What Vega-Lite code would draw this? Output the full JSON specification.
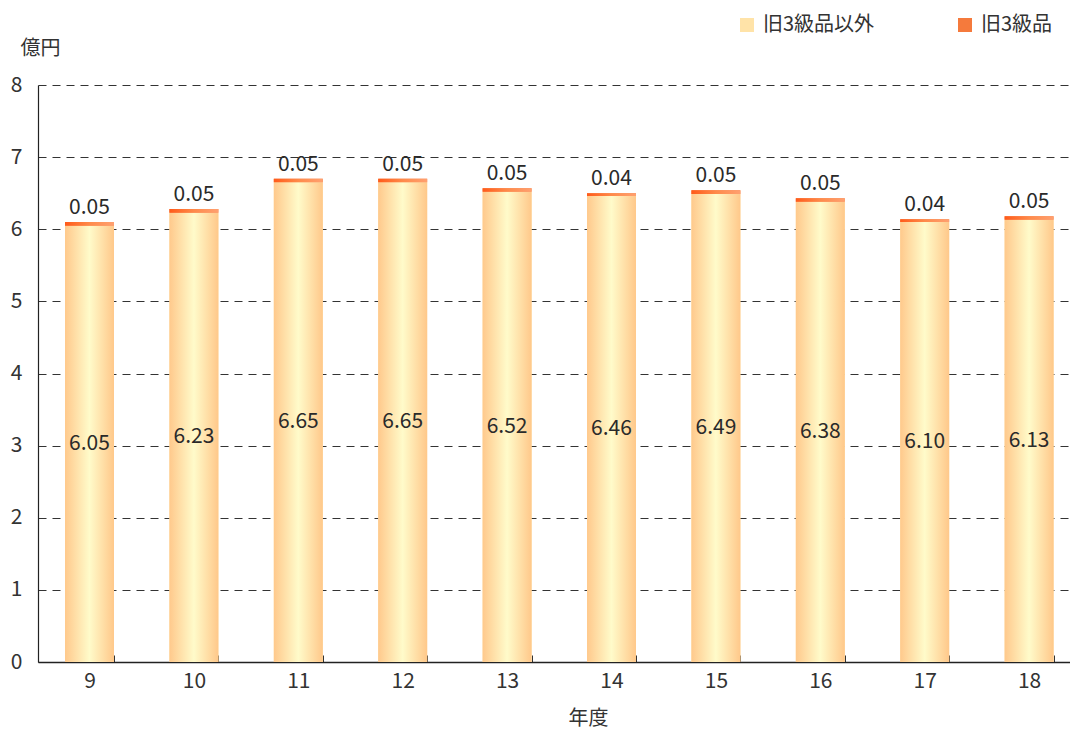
{
  "$schema": "https://vega.github.io/schema/vega-lite/v6.json",
  "width": 1032,
  "height": 577,
  "autosize": {"type": "none"},
  "padding": {"left": 38, "top": 85, "right": 0, "bottom": 69},
  "background": "white",
  "config": {
    "view": {"stroke": null},
    "font": "Noto Sans CJK JP",
    "axis": {"labelFont": "Noto Sans CJK JP", "titleFont": "Noto Sans CJK JP", "labelColor": "#333333", "titleColor": "#333333", "labelFontSize": 21, "titleFontSize": 20, "titleFontWeight": "normal"},
    "legend": {"labelFont": "Noto Sans CJK JP", "labelFontSize": 20, "labelColor": "#333333"}
  },
  "data": {
    "values": [
      {"year": "9", "series": "旧3級品以外", "value": 6.05},
      {"year": "9", "series": "旧3級品", "value": 0.05},
      {"year": "10", "series": "旧3級品以外", "value": 6.23},
      {"year": "10", "series": "旧3級品", "value": 0.05},
      {"year": "11", "series": "旧3級品以外", "value": 6.65},
      {"year": "11", "series": "旧3級品", "value": 0.05},
      {"year": "12", "series": "旧3級品以外", "value": 6.65},
      {"year": "12", "series": "旧3級品", "value": 0.05},
      {"year": "13", "series": "旧3級品以外", "value": 6.52},
      {"year": "13", "series": "旧3級品", "value": 0.05},
      {"year": "14", "series": "旧3級品以外", "value": 6.46},
      {"year": "14", "series": "旧3級品", "value": 0.04},
      {"year": "15", "series": "旧3級品以外", "value": 6.49},
      {"year": "15", "series": "旧3級品", "value": 0.05},
      {"year": "16", "series": "旧3級品以外", "value": 6.38},
      {"year": "16", "series": "旧3級品", "value": 0.05},
      {"year": "17", "series": "旧3級品以外", "value": 6.10},
      {"year": "17", "series": "旧3級品", "value": 0.04},
      {"year": "18", "series": "旧3級品以外", "value": 6.13},
      {"year": "18", "series": "旧3級品", "value": 0.05}
    ]
  },
  "encoding": {
    "x": {
      "field": "year", "type": "ordinal", "sort": null,
      "scale": {"paddingInner": 0.531, "paddingOuter": 0.208, "align": 0.622},
      "axis": {
        "title": "年度", "labelAngle": 0, "labelPadding": 15, "tickBand": "extent", "tickSize": -7,
        "tickColor": "#333333", "domainColor": "#222222", "domainWidth": 1.5,
        "titleX": 530, "titleY": 56, "titleBaseline": "middle", "titleAnchor": "start"
      }
    },
    "y": {
      "field": "value", "type": "quantitative", "stack": "zero",
      "scale": {"domain": [0, 8]},
      "axis": {
        "title": "億円", "titleAngle": 0, "titleX": -18, "titleY": -37, "titleAlign": "left", "titleBaseline": "middle",
        "tickCount": 8, "ticks": false, "labelPadding": 16, "domainColor": "#222222", "domainWidth": 1.2,
        "grid": true, "gridColor": "#333333", "gridDash": [8, 6], "gridWidth": 1
      }
    },
    "order": {"field": "series", "sort": "descending"}
  },
  "layer": [
    {
      "mark": {"type": "bar"},
      "encoding": {
        "color": {
          "field": "series", "type": "nominal",
          "scale": {"domain": ["旧3級品以外", "旧3級品"], "range": ["#FFE3A8", "#F57A3C"]},
          "legend": {
            "title": null, "orient": "none", "legendX": 699, "legendY": -70, "direction": "horizontal",
            "symbolType": "square", "symbolSize": 196, "symbolStrokeWidth": 0, "labelOffset": 6, "columnPadding": 80,
            "encode": {
              "symbols": {
                "update": {
                  "fill": [
                    {"test": "datum.value === '旧3級品'", "value": {"gradient": "linear", "x1": 0, "x2": 1, "y1": 0, "y2": 0, "stops": [{"offset": 0, "color": "#EE5A1E"}, {"offset": 1, "color": "#FFB080"}]}},
                    {"value": {"gradient": "linear", "x1": 0, "x2": 1, "y1": 0, "y2": 0, "stops": [{"offset": 0, "color": "#FFD9A0"}, {"offset": 1, "color": "#FFF6C8"}]}}
                  ],
                  "stroke": {"value": null}
                }
              }
            }
          }
        }
      }
    },
    {
      "mark": {"type": "bar"},
      "encoding": {
        "color": {
          "condition": {"test": "datum.series === '旧3級品'", "value": {"gradient": "linear", "x1": 0, "x2": 1, "y1": 0, "y2": 0, "stops": [{"offset": 0, "color": "#FF5A1A"}, {"offset": 0.5, "color": "#FF8A4A"}, {"offset": 1, "color": "#FFA070"}]}},
          "value": {"gradient": "linear", "x1": 0, "x2": 1, "y1": 0, "y2": 0, "stops": [{"offset": 0, "color": "#FFC98C"}, {"offset": 0.5, "color": "#FFFBCA"}, {"offset": 1, "color": "#FFC88A"}]}
        }
      }
    },
    {
      "mark": {"type": "text", "fontSize": 21, "color": "#2a2a2a", "baseline": "middle"},
      "encoding": {
        "y": {"field": "value", "type": "quantitative", "stack": "zero", "bandPosition": 0.5},
        "text": {"condition": {"test": "datum.series === '旧3級品以外'", "field": "value", "format": ".2f"}, "value": ""}
      }
    },
    {
      "mark": {"type": "text", "fontSize": 21, "color": "#2a2a2a", "baseline": "bottom", "dy": -4},
      "encoding": {
        "text": {"condition": {"test": "datum.series === '旧3級品'", "field": "value", "format": ".2f"}, "value": ""}
      }
    }
  ]
}
